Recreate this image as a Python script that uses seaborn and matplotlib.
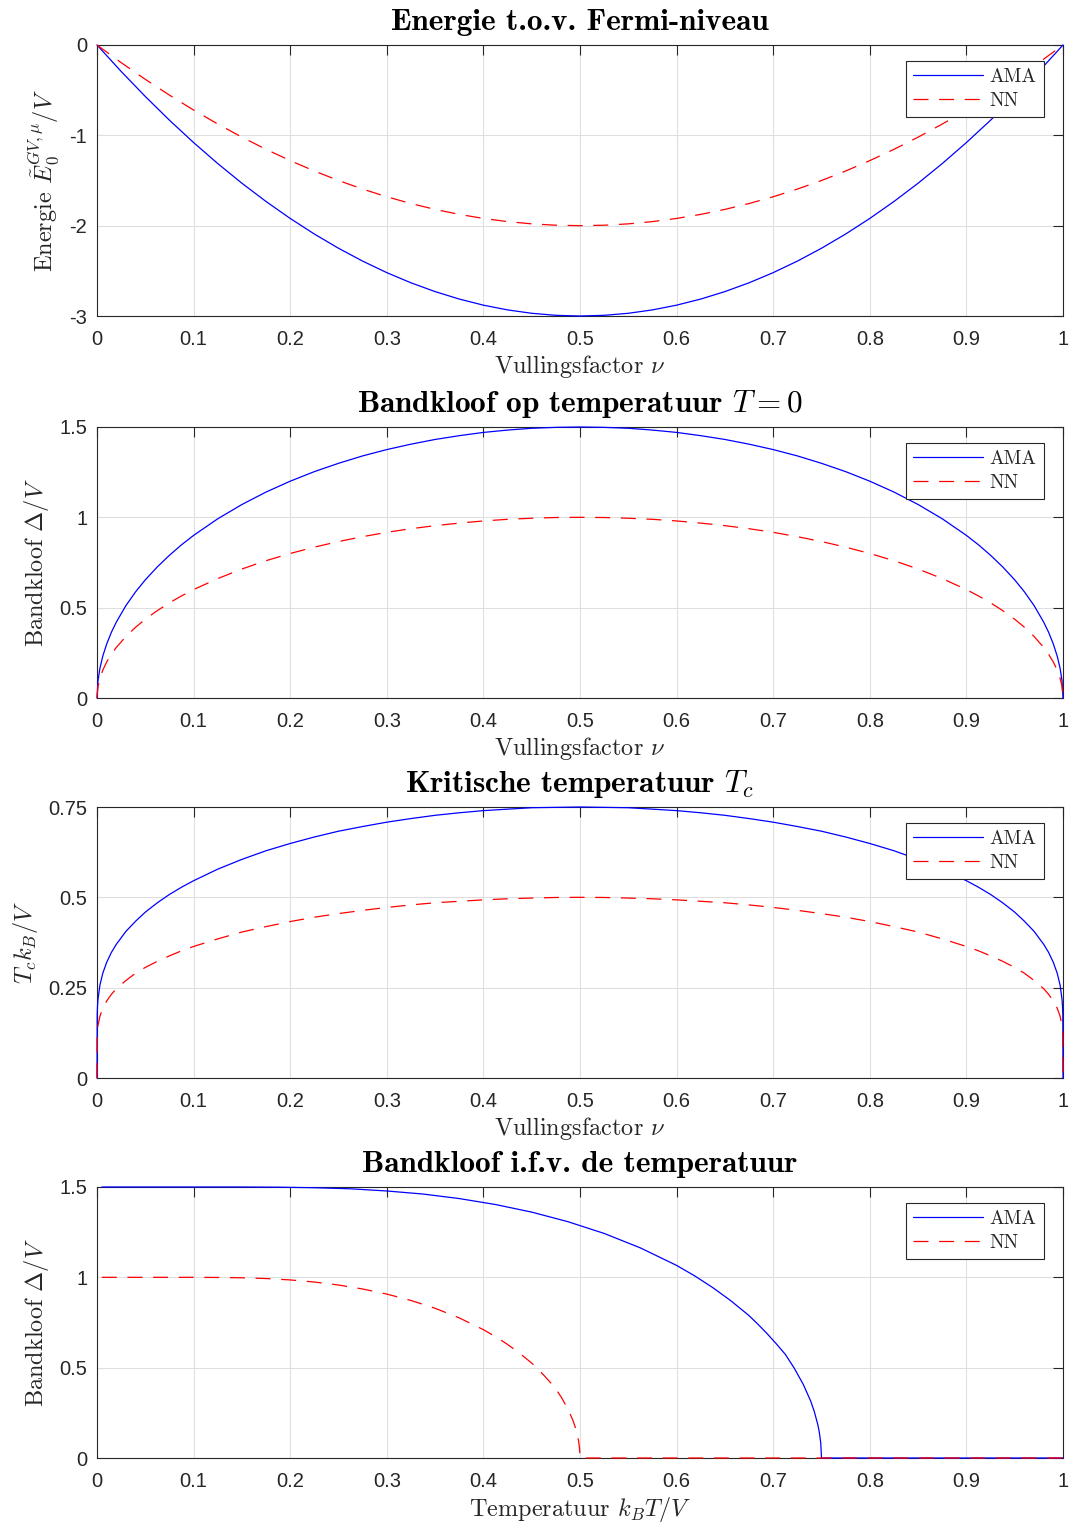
import pandas as pd
import seaborn as sns
import matplotlib.pyplot as plt

# --- data ---
nu_e = [0, 0.025, 0.05, 0.075, 0.1, 0.125, 0.15, 0.175, 0.2, 0.225, 0.25, 0.275, 0.3, 0.325,
        0.35, 0.375, 0.4, 0.425, 0.45, 0.475, 0.5, 0.525, 0.55, 0.575, 0.6, 0.625, 0.65, 0.675,
        0.7, 0.725, 0.75, 0.775, 0.8, 0.825, 0.85, 0.875, 0.9, 0.925, 0.95, 0.975, 1]
energy_ama = [0, -0.2925, -0.57, -0.8325, -1.08, -1.3125, -1.53, -1.7325, -1.92, -2.0925, -2.25,
              -2.3925, -2.52, -2.6325, -2.73, -2.8125, -2.88, -2.9325, -2.97, -2.9925, -3.0,
              -2.9925, -2.97, -2.9325, -2.88, -2.8125, -2.73, -2.6325, -2.52, -2.3925, -2.25,
              -2.0925, -1.92, -1.7325, -1.53, -1.3125, -1.08, -0.8325, -0.57, -0.2925, 0]
energy_nn = [0, -0.195, -0.38, -0.555, -0.72, -0.875, -1.02, -1.155, -1.28, -1.395, -1.5,
             -1.595, -1.68, -1.755, -1.82, -1.875, -1.92, -1.955, -1.98, -1.995, -2.0,
             -1.995, -1.98, -1.955, -1.92, -1.875, -1.82, -1.755, -1.68, -1.595, -1.5,
             -1.395, -1.28, -1.155, -1.02, -0.875, -0.72, -0.555, -0.38, -0.195, 0]

nu_gap = [0, 0.001, 0.003, 0.006, 0.01, 0.015, 0.02, 0.03, 0.04, 0.05, 0.0625, 0.075, 0.0875,
          0.1, 0.125, 0.15, 0.175, 0.2, 0.225, 0.25, 0.275, 0.3, 0.325, 0.35, 0.375, 0.4, 0.425,
          0.45, 0.475, 0.5, 0.525, 0.55, 0.575, 0.6, 0.625, 0.65, 0.675, 0.7, 0.725, 0.75,
          0.775, 0.8, 0.825, 0.85, 0.875, 0.9, 0.9125, 0.925, 0.9375, 0.95, 0.96, 0.97, 0.98,
          0.985, 0.99, 0.994, 0.997, 0.999, 1]
gap_ama = [0, 0.095, 0.164, 0.232, 0.2985, 0.365, 0.42, 0.512, 0.588, 0.654, 0.726, 0.790,
           0.848, 0.9, 0.992, 1.071, 1.140, 1.2, 1.253, 1.299, 1.340, 1.375, 1.405, 1.431,
           1.452, 1.470, 1.483, 1.493, 1.498, 1.5, 1.498, 1.493, 1.483, 1.470, 1.452, 1.431,
           1.405, 1.375, 1.340, 1.299, 1.253, 1.2, 1.140, 1.071, 0.992, 0.9, 0.848, 0.790,
           0.726, 0.654, 0.588, 0.512, 0.42, 0.365, 0.2985, 0.232, 0.164, 0.095, 0]
gap_nn = [0, 0.063, 0.109, 0.154, 0.199, 0.243, 0.28, 0.341, 0.392, 0.436, 0.484, 0.527, 0.565,
          0.6, 0.661, 0.714, 0.760, 0.8, 0.835, 0.866, 0.893, 0.917, 0.937, 0.954, 0.968,
          0.980, 0.989, 0.995, 0.999, 1.0, 0.999, 0.995, 0.989, 0.980, 0.968, 0.954, 0.937,
          0.917, 0.893, 0.866, 0.835, 0.8, 0.760, 0.714, 0.661, 0.6, 0.565, 0.527, 0.484,
          0.436, 0.392, 0.341, 0.28, 0.243, 0.199, 0.154, 0.109, 0.063, 0]

nu_tc = [0, 0.0002, 0.0005, 0.001, 0.003, 0.006, 0.01, 0.015, 0.02, 0.03, 0.04, 0.05, 0.0625,
         0.075, 0.0875, 0.1, 0.125, 0.15, 0.175, 0.2, 0.225, 0.25, 0.275, 0.3, 0.325, 0.35,
         0.375, 0.4, 0.425, 0.45, 0.475, 0.5, 0.525, 0.55, 0.575, 0.6, 0.625, 0.65, 0.675, 0.7,
         0.725, 0.75, 0.775, 0.8, 0.825, 0.85, 0.875, 0.9, 0.9125, 0.925, 0.9375, 0.95, 0.96,
         0.97, 0.98, 0.985, 0.99, 0.994, 0.997, 0.999, 0.9995, 0.9998, 1]
tc_ama = [0, 0.176, 0.197, 0.217, 0.257, 0.290, 0.320, 0.348, 0.370, 0.406, 0.434, 0.459, 0.485,
          0.508, 0.528, 0.546, 0.578, 0.605, 0.629, 0.649, 0.667, 0.683, 0.696, 0.708, 0.718,
          0.727, 0.734, 0.740, 0.744, 0.748, 0.749, 0.75, 0.749, 0.748, 0.744, 0.740, 0.734,
          0.727, 0.718, 0.708, 0.696, 0.683, 0.667, 0.649, 0.629, 0.605, 0.578, 0.546, 0.528,
          0.508, 0.485, 0.459, 0.434, 0.406, 0.370, 0.348, 0.320, 0.290, 0.257, 0.217, 0.197,
          0.176, 0]
tc_nn = [0, 0.117, 0.131, 0.145, 0.171, 0.193, 0.213, 0.232, 0.247, 0.270, 0.290, 0.306, 0.323,
         0.338, 0.352, 0.364, 0.385, 0.404, 0.419, 0.433, 0.445, 0.455, 0.464, 0.472, 0.479,
         0.485, 0.489, 0.493, 0.496, 0.498, 0.4996, 0.5, 0.4996, 0.498, 0.496, 0.493, 0.489,
         0.485, 0.479, 0.472, 0.464, 0.455, 0.445, 0.433, 0.419, 0.404, 0.385, 0.364, 0.352,
         0.338, 0.323, 0.306, 0.290, 0.270, 0.247, 0.232, 0.213, 0.193, 0.171, 0.145, 0.131,
         0.117, 0]

temp_ama = [0.005, 0.15, 0.1875, 0.225, 0.2625, 0.3, 0.3375, 0.375, 0.4125, 0.45, 0.4875, 0.525,
            0.5625, 0.6, 0.61875, 0.6375, 0.65625, 0.675, 0.684375, 0.69375, 0.703125, 0.7125,
            0.721875, 0.73125, 0.73875, 0.7425, 0.74625, 0.74775, 0.74925, 0.75, 1.0]
gap_t_ama = [1.5, 1.5, 1.499, 1.496, 1.490, 1.478, 1.461, 1.436, 1.403, 1.361, 1.308, 1.243,
             1.163, 1.066, 1.008, 0.943, 0.870, 0.788, 0.7395, 0.688, 0.6326, 0.574, 0.4965,
             0.406, 0.3158, 0.258, 0.1833, 0.142, 0.0822, 0, 0]
temp_nn = [0.005, 0.1, 0.125, 0.15, 0.175, 0.2, 0.225, 0.25, 0.275, 0.3, 0.325, 0.35, 0.375,
           0.4, 0.4125, 0.425, 0.4375, 0.45, 0.45625, 0.4625, 0.46875, 0.475, 0.48125, 0.4875,
           0.4925, 0.495, 0.4975, 0.4985, 0.4995, 0.5, 1.0]
gap_t_nn = [1, 1, 0.9993, 0.9975, 0.9933, 0.9856, 0.974, 0.9575, 0.9354, 0.9073, 0.872, 0.8286,
            0.7755, 0.7104, 0.672, 0.6286, 0.580, 0.5254, 0.493, 0.4586, 0.4217, 0.3824, 0.331,
            0.2706, 0.2105, 0.1721, 0.1222, 0.0948, 0.0548, 0, 0]

x_ticks = [0, 0.1, 0.2, 0.3, 0.4, 0.5, 0.6, 0.7, 0.8, 0.9, 1]
x_ticklabels = ['0', '0.1', '0.2', '0.3', '0.4', '0.5', '0.6', '0.7', '0.8', '0.9', '1']

titles = ['Energie t.o.v. Fermi-niveau', r'Bandkloof op temperatuur $T=0$',
          r'Kritische temperatuur $T_c$', 'Bandkloof i.f.v. de temperatuur']
xlabels = [r'Vullingsfactor $\nu$', r'Vullingsfactor $\nu$', r'Vullingsfactor $\nu$',
           r'Temperatuur $k_BT/V$']
ylabels = [r'Energie $\tilde{E}_0^{GV,\mu}/V$', r'Bandkloof $\Delta/V$', r'$T_ck_B/V$',
           r'Bandkloof $\Delta/V$']
y_ticks = [[-3, -2, -1, 0], [0, 0.5, 1, 1.5], [0, 0.25, 0.5, 0.75], [0, 0.5, 1, 1.5]]
y_ticklabels = [['-3', '-2', '-1', '0'], ['0', '0.5', '1', '1.5'],
                ['0', '0.25', '0.5', '0.75'], ['0', '0.5', '1', '1.5']]

series = [
    (nu_e, energy_ama, nu_e, energy_nn),
    (nu_gap, gap_ama, nu_gap, gap_nn),
    (nu_tc, tc_ama, nu_tc, tc_nn),
    (temp_ama, gap_t_ama, temp_nn, gap_t_nn),
]

sns.set_style('white')
plt.rcParams['font.family'] = ['Liberation Sans', 'DejaVu Sans']
plt.rcParams['mathtext.fontset'] = 'cm'
plt.rcParams['axes.unicode_minus'] = False

DASH = (12, 8.5)
fig = plt.figure(figsize=(10.71, 15.24), dpi=100)
tops = [45, 427, 807, 1187]
W, H = 1071, 1524

for i, (xa, ya, xn, yn) in enumerate(series):
    top = tops[i]
    ax = fig.add_axes([97 / W, 1 - (top + 271) / H, 966 / W, 271 / H])
    sns.lineplot(x=xa, y=ya, ax=ax, color='#0000ff', linewidth=0.9, label='AMA',
                 estimator=None, sort=False)
    sns.lineplot(x=xn, y=yn, ax=ax, color='#ff0000', linewidth=0.9, label='NN',
                 estimator=None, sort=False)
    ax.lines[1].set_dashes(DASH)
    for ln in ax.lines:
        ln.set_zorder(3)
        ln.set_clip_on(False)

    ax.set_xlim(0, 1)
    ax.set_ylim(y_ticks[i][0], y_ticks[i][-1])
    ax.set_xticks(x_ticks)
    ax.set_xticklabels(x_ticklabels)
    ax.set_yticks(y_ticks[i])
    ax.set_yticklabels(y_ticklabels[i])
    ax.tick_params(direction='in', length=7, width=0.8, colors='#262626', labelsize=14.5,
                   top=True, right=True)
    ax.tick_params(axis='x', pad=10)
    ax.tick_params(axis='y', pad=7)
    ax.grid(True, color='#dfdfdf', linewidth=0.8)
    ax.set_axisbelow(True)
    for s in ax.spines.values():
        s.set_color('#262626')
        s.set_linewidth(0.8)

    ax.set_title(titles[i], fontfamily='cmb10', fontsize=22.5, pad=11, color='black')
    ax.set_xlabel(xlabels[i], fontfamily='cmr10', fontsize=17.5, labelpad=3, color='#262626')
    ax.set_ylabel(ylabels[i], fontfamily='cmr10', fontsize=17.5, labelpad=6, color='#262626')

    leg = ax.legend(loc='upper right', bbox_to_anchor=(1 - 19 / 966, 1 - 16 / 271),
                    borderaxespad=0, prop={'family': 'cmr10', 'size': 14}, fancybox=False,
                    framealpha=1, edgecolor='#262626', handlelength=3.6,
                    handletextpad=0.35, labelspacing=0.3, borderpad=0.37)
    leg.get_frame().set_linewidth(0.8)
    leg.get_lines()[1].set_dashes(DASH)

fig.savefig('out.png', dpi=100)
